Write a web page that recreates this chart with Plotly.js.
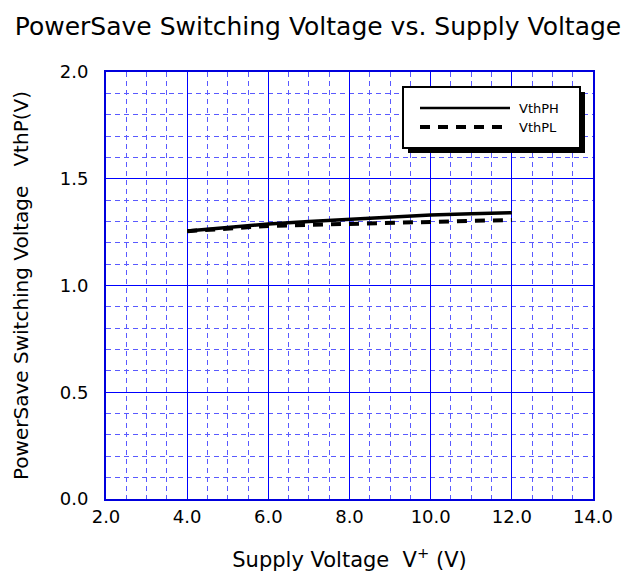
<!DOCTYPE html>
<html>
<head>
<meta charset="utf-8">
<script src="https://cdn.plot.ly/plotly-3.0.1.min.js"></script>
<style>html,body{margin:0;padding:0;background:#fff;}#chart{width:640px;height:581px;}</style>
</head>
<body>
<div id="chart"></div>
<script>
const supplyV = [4, 5, 6, 7, 8, 9, 10, 11, 12];
const vthPH = [1.255, 1.272, 1.288, 1.300, 1.311, 1.321, 1.330, 1.336, 1.341];
const vthPL = [1.254, 1.268, 1.279, 1.284, 1.288, 1.293, 1.298, 1.303, 1.307];
const seriesNames = ['VthPH', 'VthPL'];
const xTicks = [2, 4, 6, 8, 10, 12, 14];
const yTicks = [0, 0.5, 1.0, 1.5, 2.0];

const FONT = 'DejaVu Sans, Arial';
const L = 106, R = 593, T = 72, B = 499;
const px = x => (x - L) / (R - L);
const py = y => (B - y) / (B - T);

const traces = [
  {x: supplyV, y: vthPH, name: seriesNames[0], mode: 'lines', line: {color: '#000', width: 3.5}},
  {x: supplyV, y: vthPL, name: seriesNames[1], mode: 'lines', line: {color: '#000', width: 4, dash: '10px,8px'}}
];

const shapes = [
  {type: 'rect', xref: 'paper', yref: 'paper', x0: px(408), x1: px(585), y0: py(92), y1: py(153), fillcolor: '#000', line: {width: 0}, layer: 'above'},
  {type: 'rect', xref: 'paper', yref: 'paper', x0: px(403), x1: px(580), y0: py(87), y1: py(148), fillcolor: '#fff', line: {color: '#000', width: 2}, layer: 'above'},
  {type: 'line', xref: 'paper', yref: 'paper', x0: px(420), x1: px(510), y0: py(108), y1: py(108), line: {color: '#000', width: 2.5}, layer: 'above'},
  {type: 'line', xref: 'paper', yref: 'paper', x0: px(420), x1: px(510), y0: py(127), y1: py(127), line: {color: '#000', width: 4, dash: '10px,8px'}, layer: 'above'}
];

const annotations = [
  {xref: 'paper', yref: 'paper', x: px(517), y: py(108), text: seriesNames[0], showarrow: false, xanchor: 'left', yanchor: 'middle', font: {family: FONT, size: 13, color: '#000'}},
  {xref: 'paper', yref: 'paper', x: px(517), y: py(127), text: seriesNames[1], showarrow: false, xanchor: 'left', yanchor: 'middle', font: {family: FONT, size: 13, color: '#000'}}
];

const layout = {
  width: 640, height: 581,
  margin: {l: L, r: 640 - R, t: T, b: 581 - B},
  paper_bgcolor: '#fff', plot_bgcolor: '#fff',
  showlegend: false,
  font: {family: FONT, color: '#000'},
  title: {text: 'PowerSave Switching Voltage vs. Supply Voltage', font: {family: FONT, size: 25, color: '#000'}, x: 318 / 640, xref: 'container', xanchor: 'center', y: 1 - 26 / 581, yref: 'container', yanchor: 'middle'},
  xaxis: {
    range: [2, 14], tickvals: xTicks, ticktext: xTicks.map(v => v.toFixed(1)),
    showgrid: true, gridcolor: '#0000ff', gridwidth: 1,
    minor: {dtick: 0.5, showgrid: true, gridcolor: '#5a5aff', griddash: '5px,4px', gridwidth: 1, ticks: ''},
    showline: true, linecolor: '#0000dd', linewidth: 2, mirror: true,
    ticks: '', zeroline: false,
    tickfont: {family: FONT, size: 18, color: '#000'},
    title: {text: 'Supply Voltage  V<sup>+</sup> (V)', font: {family: FONT, size: 21, color: '#000'}, standoff: 27}
  },
  yaxis: {
    range: [0, 2], tickvals: yTicks, ticktext: yTicks.map(v => v.toFixed(1)),
    showgrid: true, gridcolor: '#0000ff', gridwidth: 1,
    minor: {dtick: 0.1, showgrid: true, gridcolor: '#5a5aff', griddash: '5px,4px', gridwidth: 1, ticks: ''},
    showline: true, linecolor: '#0000dd', linewidth: 2, mirror: true,
    ticks: '', zeroline: false,
    tickfont: {family: FONT, size: 18, color: '#000'},
    ticklabelstandoff: 12,
    title: {text: 'PowerSave Switching Voltage   VthP(V)', font: {family: FONT, size: 20, color: '#000'}, standoff: 26}
  },
  shapes: shapes,
  annotations: annotations
};

Plotly.newPlot('chart', traces, layout, {displayModeBar: false, staticPlot: true});
</script>
</body>
</html>
